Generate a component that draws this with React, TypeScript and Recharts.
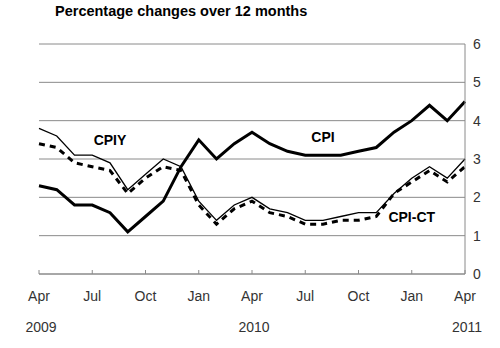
import { LineChart, Line, XAxis, YAxis, CartesianGrid, ReferenceDot } from "recharts";

const months = [
  "Apr 2009", "May 2009", "Jun 2009", "Jul 2009", "Aug 2009", "Sep 2009", "Oct 2009",
  "Nov 2009", "Dec 2009", "Jan 2010", "Feb 2010", "Mar 2010", "Apr 2010", "May 2010",
  "Jun 2010", "Jul 2010", "Aug 2010", "Sep 2010", "Oct 2010", "Nov 2010", "Dec 2010",
  "Jan 2011", "Feb 2011", "Mar 2011", "Apr 2011",
];

const cpi = [
  2.3, 2.2, 1.8, 1.8, 1.6, 1.1, 1.5, 1.9, 2.8, 3.5, 3.0, 3.4, 3.7,
  3.4, 3.2, 3.1, 3.1, 3.1, 3.2, 3.3, 3.7, 4.0, 4.4, 4.0, 4.5,
];

const cpiy = [
  3.8, 3.6, 3.1, 3.1, 2.9, 2.2, 2.6, 3.0, 2.8, 1.9, 1.4, 1.8, 2.0,
  1.7, 1.6, 1.4, 1.4, 1.5, 1.6, 1.6, 2.1, 2.5, 2.8, 2.5, 3.0,
];

const cpiCt = [
  3.4, 3.3, 2.9, 2.8, 2.7, 2.1, 2.5, 2.8, 2.7, 1.8, 1.3, 1.7, 1.9,
  1.6, 1.5, 1.3, 1.3, 1.4, 1.4, 1.5, 2.1, 2.4, 2.7, 2.4, 2.8,
];

const yTicks = [0, 1, 2, 3, 4, 5, 6];

// series name labels, anchored in data space
const seriesLabels = [
  { text: "CPIY", at: "Aug 2009", value: 3.5 },
  { text: "CPI", at: "Aug 2010", value: 3.57 },
  { text: "CPI-CT", at: "Jan 2011", value: 1.48 },
];

const data = months.map((m, i) => ({
  month: m,
  cpi: cpi[i],
  cpiy: cpiy[i],
  cpiCt: cpiCt[i],
}));

const FONT = "'Liberation Sans', Arial, sans-serif";
const GRID = "#8a8a8a";
const TEXT = "#333";

function MonthTick(props: any) {
  const { x, y, payload } = props;
  const [mon, year] = String(payload.value).split(" ");
  return (
    <g>
      <line x1={x} x2={x} y1={y - 4} y2={y} stroke={GRID} />
      <text x={x} y={y + 27} textAnchor="middle" fontSize={14} fill={TEXT} fontFamily={FONT}>
        {mon}
      </text>
      {mon === "Apr" && (
        <text x={x + 2} y={y + 58} textAnchor="middle" fontSize={14} fill={TEXT} fontFamily={FONT}>
          {year}
        </text>
      )}
    </g>
  );
}

export default function App() {
  return (
    <div style={{ position: "absolute", left: 0, top: 0, width: 500, height: 348, background: "#fff" }}>
      <div
        style={{
          position: "absolute",
          left: 55,
          top: 3,
          fontFamily: FONT,
          fontWeight: "bold",
          fontSize: 14.5,
          color: "#000",
          whiteSpace: "nowrap",
        }}
      >
        Percentage changes over 12 months
      </div>
      <LineChart width={500} height={348} data={data} margin={{ top: 44, right: 0, bottom: 0, left: 39 }}>
        <CartesianGrid vertical={false} stroke={GRID} />
        <XAxis
          dataKey="month"
          interval={2}
          height={74}
          tickSize={0}
          tickMargin={0}
          tickLine={false}
          axisLine={{ stroke: GRID }}
          tick={<MonthTick />}
        />
        <YAxis
          orientation="right"
          domain={[0, 6]}
          ticks={yTicks}
          width={35}
          tickLine={false}
          axisLine={{ stroke: GRID }}
          tick={{ fontSize: 14, fill: TEXT, fontFamily: FONT }}
        />
        <Line dataKey="cpiy" stroke="#000" strokeWidth={1.3} dot={false} isAnimationActive={false} />
        <Line
          dataKey="cpiCt"
          stroke="#000"
          strokeWidth={3}
          strokeDasharray="6 5"
          dot={false}
          isAnimationActive={false}
        />
        <Line dataKey="cpi" stroke="#000" strokeWidth={3} dot={false} isAnimationActive={false} />
        {seriesLabels.map((l) => (
          <ReferenceDot
            key={l.text}
            x={l.at}
            y={l.value}
            r={0}
            fill="none"
            stroke="none"
            label={{
              value: l.text,
              position: "center",
              fontSize: 14,
              fontWeight: "bold",
              fill: "#000",
              fontFamily: FONT,
            }}
          />
        ))}
      </LineChart>
    </div>
  );
}
